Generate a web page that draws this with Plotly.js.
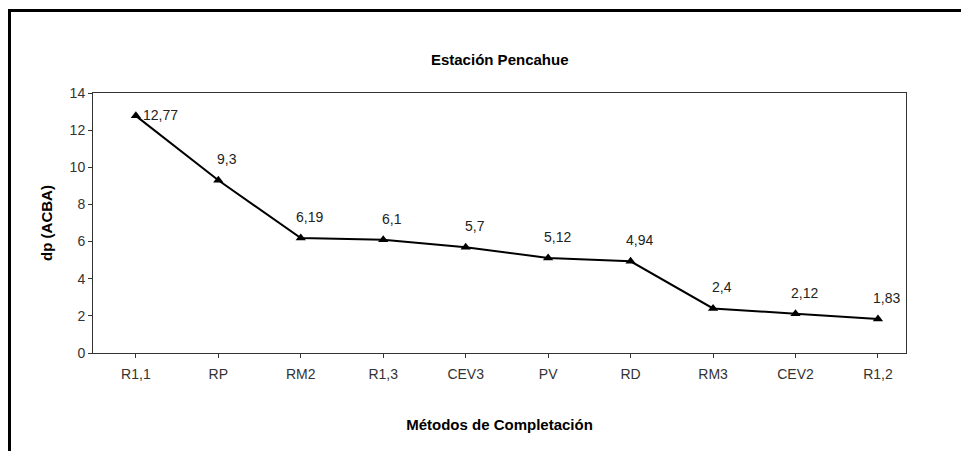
<!DOCTYPE html>
<html>
<head>
<meta charset="utf-8">
<script src="https://cdn.plot.ly/plotly-3.0.1.min.js"></script>
<style>
  html, body { margin: 0; padding: 0; background: #fff; }
  #wrap { position: relative; width: 961px; height: 451px; overflow: hidden; }
  #chart { width: 961px; height: 451px; }
  #frame { position: absolute; left: 8px; top: 9px; width: 960px; height: 450px;
           border-top: 3px solid #000; border-left: 3px solid #000; pointer-events: none; }
</style>
</head>
<body>
<div id="wrap">
  <div id="chart"></div>
  <div id="frame"></div>
</div>
<script>
const categories = ["R1,1", "RP", "RM2", "R1,3", "CEV3", "PV", "RD", "RM3", "CEV2", "R1,2"];
const dpValues = [12.77, 9.3, 6.19, 6.1, 5.7, 5.12, 4.94, 2.4, 2.12, 1.83];
const valueLabels = ["12,77", "9,3", "6,19", "6,1", "5,7", "5,12", "4,94", "2,4", "2,12", "1,83"];
const yTicks = [0, 2, 4, 6, 8, 10, 12, 14];

const FONT = "Liberation Sans, Arial, sans-serif";

const trace = {
  x: categories,
  y: dpValues,
  type: "scatter",
  mode: "lines+markers",
  line: { color: "#000", width: 2 },
  marker: { symbol: "triangle-up", size: 9, color: "#000" },
  hoverinfo: "x+y"
};

const annotations = categories.map((c, i) => ({
  x: c, y: dpValues[i], xref: "x", yref: "y",
  text: valueLabels[i], showarrow: false,
  xshift: i === 0 ? 25 : 9,
  yshift: i === 0 ? 1 : 21,
  font: { family: FONT, size: 14, color: "#222" }
}));

const layout = {
  width: 961, height: 451,
  margin: { l: 93, r: 55, t: 93, b: 98 },
  paper_bgcolor: "#fff", plot_bgcolor: "#fff",
  showlegend: false,
  title: {
    text: "<b>Estación Pencahue</b>",
    font: { family: FONT, size: 15, color: "#000" },
    x: 0.52, xanchor: "center", yref: "container", y: 1 - 60 / 451, yanchor: "middle"
  },
  xaxis: {
    type: "category",
    range: [-0.52, 9.34],
    showline: true, mirror: true, linecolor: "#333", linewidth: 1,
    ticks: "outside", ticklen: 4, tickcolor: "#333",
    ticklabelstandoff: 4,
    showgrid: false, zeroline: false,
    tickfont: { family: FONT, size: 14, color: "#333" },
    title: { text: "<b>Métodos de Completación</b>", font: { family: FONT, size: 15, color: "#000" }, standoff: 38 }
  },
  yaxis: {
    range: [0, 14],
    tickvals: yTicks,
    showline: true, mirror: true, linecolor: "#333", linewidth: 1,
    ticks: "outside", ticklen: 4, tickcolor: "#333",
    showgrid: false, zeroline: false,
    tickfont: { family: FONT, size: 14, color: "#333" },
    title: { text: "<b>dp (ACBA)</b>", font: { family: FONT, size: 15, color: "#000" }, standoff: 13 }
  },
  annotations: annotations
};

Plotly.newPlot("chart", [trace], layout, { displayModeBar: false, staticPlot: true });
</script>
</body>
</html>
